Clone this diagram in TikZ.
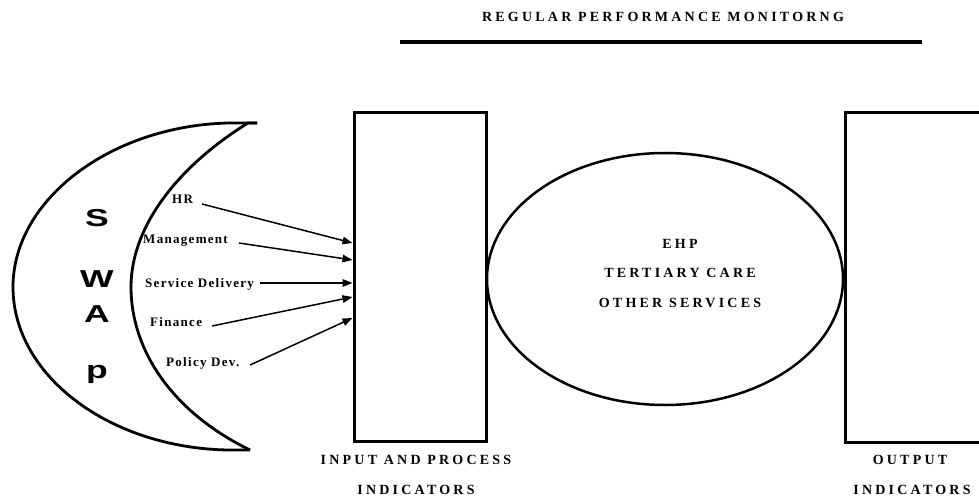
\documentclass[tikz,border=0pt]{standalone}
\usepackage{fontspec}
\setmainfont{Liberation Serif}
\newfontfamily\capsfont[LetterSpace=23]{Liberation Serif}
\newfontfamily\lblfont[LetterSpace=10]{Liberation Serif}
\newfontfamily\swapfont{Liberation Sans}
\usetikzlibrary{arrows.meta,shapes.geometric}
\begin{document}
\begin{tikzpicture}[x=1pt,y=-1pt,
  box/.style={draw, line width=3pt, minimum width=132pt, minimum height=328pt, inner sep=0pt},
  caps/.style={font=\capsfont\bfseries\fontsize{14}{16}\selectfont, inner sep=0pt, anchor=base},
  lbl/.style={font=\lblfont\bfseries\fontsize{13}{15}\selectfont, inner sep=0pt, anchor=base west},
  swapl/.style={font=\swapfont\bfseries\fontsize{24.5}{28}\selectfont, inner sep=0pt, anchor=base},
  arr/.style={line width=1.5pt, -{Triangle[length=10pt,width=7.5pt]}},
  crescent/.style={line width=2.8pt, line join=round}]
\useasboundingbox (0,0) rectangle (979,497);
\clip (0,0) rectangle (979,497);
\fill[white] (0,0) rectangle (979,497);

% title
\node[caps] (title) at (663,21.5) {REGULAR PERFORMANCE MONITORNG};
\coordinate (tl) at (400,42);
\coordinate (tr) at (922,42);
\draw[line width=4pt] (tl) -- (tr);

% crescent
\draw[crescent] (257,123) -- (228,123) .. controls (110,126) and (13,200) .. (13,287)
  .. controls (13,376) and (110,448) .. (228,450) -- (250,450);
\draw[crescent] (257,123) -- (248,123) .. controls (180,165) and (131,225) .. (131,287)
  .. controls (131,350) and (172,412) .. (250,450);

\node[swapl] (s) at (97,226) {\scalebox{1.45}[1]{S}};
\node[swapl] (w) at (97,287) {\scalebox{1.45}[1]{W}};
\node[swapl] (a) at (97,322) {\scalebox{1.45}[1]{A}};
\node[swapl] (p) at (97,378) {\scalebox{1.45}[1]{p}};

% boxes and ellipse
\node[box] (inp) at (420,277) {};
\node[box, minimum width=136pt, minimum height=329pt] (outp) at (913,277.5) {};
\node[draw, ellipse, line width=2.5pt, minimum width=356pt, minimum height=252pt, inner sep=0pt] (svc) at (665,279) {};

% ellipse text
\node[caps] (ehp) at (680,248) {EHP};
\node[caps] (tert) at (680,277) {TERTIARY CARE};
\node[caps] (oth) at (680,307) {OTHER SERVICES};

% bottom labels
\node[caps] (in1) at (416,464) {INPUT AND PROCESS};
\node[caps] (in2) at (416,494) {INDICATORS};
\node[caps] (out1) at (910,464) {OUTPUT};
\node[caps] (out2) at (912,494) {INDICATORS};

% input labels
\node[lbl] (hr) at (172,204) {HR};
\node[lbl] (mg) at (143,243) {Management};
\node[lbl] (sd) at (145,287) {Service Delivery};
\node[lbl] (fi) at (150,326) {Finance};
\node[lbl] (pd) at (166,366) {Policy Dev.};

\coordinate (t1) at (352.5,243);
\coordinate (t2) at (352.5,260);
\coordinate (t3) at (352.5,283);
\coordinate (t4) at (352.5,297);
\coordinate (t5) at (352.5,318);

\draw[arr] (202,204) -- (t1);
\draw[arr] (239,243) -- (t2);
\draw[arr] (260,283) -- (t3);
\draw[arr] (212,326) -- (t4);
\draw[arr] (250,365) -- (t5);
\end{tikzpicture}
\end{document}
